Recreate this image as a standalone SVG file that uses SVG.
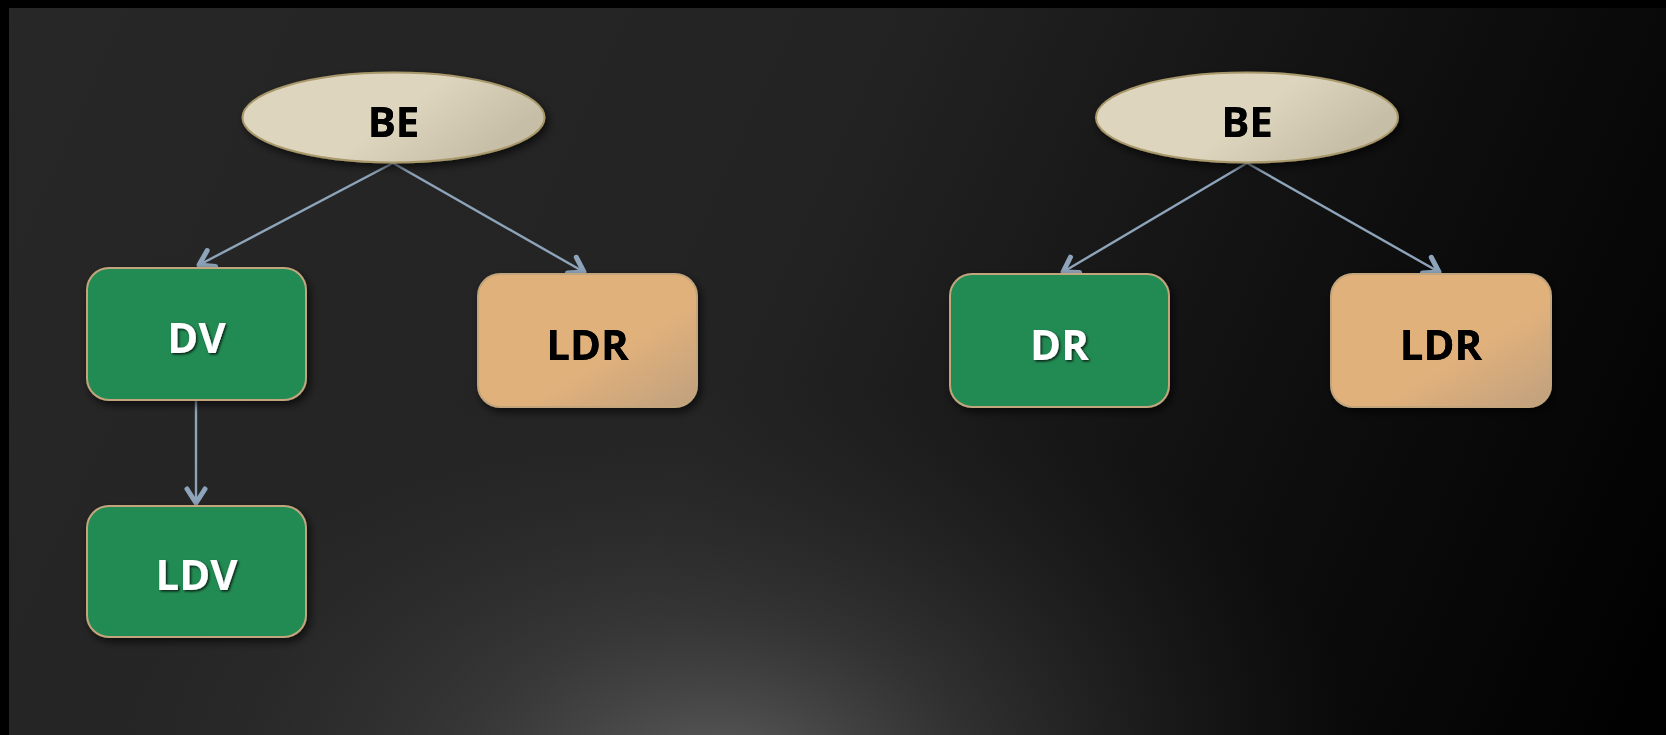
<svg xmlns="http://www.w3.org/2000/svg" width="1666" height="735" viewBox="0 0 1666 735">
<defs>
<linearGradient id="bgLin" x1="0" y1="0" x2="1666" y2="735" gradientUnits="userSpaceOnUse">
<stop offset="0" stop-color="#272727"/>
<stop offset="0.45" stop-color="#232323"/>
<stop offset="0.75" stop-color="#0e0e0e"/>
<stop offset="1" stop-color="#000"/>
</linearGradient>
<radialGradient id="glow" cx="720" cy="780" r="520" gradientUnits="userSpaceOnUse" gradientTransform="translate(720 780) scale(1.25 0.78) translate(-720 -780)">
<stop offset="0" stop-color="#6a6a6a" stop-opacity="0.85"/>
<stop offset="0.4" stop-color="#4a4a4a" stop-opacity="0.5"/>
<stop offset="1" stop-color="#2a2a2a" stop-opacity="0"/>
</radialGradient>
<linearGradient id="beFill" x1="0" y1="0" x2="1" y2="0.4">
<stop offset="0" stop-color="#ddd5bd"/>
<stop offset="0.6" stop-color="#ddd5bd"/>
<stop offset="1" stop-color="#c6bea6"/>
</linearGradient>
<linearGradient id="ldrFill" x1="0" y1="0" x2="1" y2="1">
<stop offset="0" stop-color="#e1b17b"/>
<stop offset="0.6" stop-color="#e1b17b"/>
<stop offset="1" stop-color="#bfa07f"/>
</linearGradient>
<filter id="shadow" x="-20%" y="-20%" width="140%" height="150%">
<feDropShadow dx="3" dy="4" stdDeviation="4" flood-color="#000" flood-opacity="0.65"/>
</filter>
<filter id="tshadow" x="-20%" y="-20%" width="140%" height="150%">
<feDropShadow dx="1.5" dy="1.5" stdDeviation="1.3" flood-color="#000" flood-opacity="0.75"/>
</filter>
<filter id="tshadowDark" x="-20%" y="-20%" width="140%" height="150%">
<feGaussianBlur stdDeviation="0.7" in="SourceGraphic" result="b"/>
<feMerge><feMergeNode in="b"/><feMergeNode in="SourceGraphic"/></feMerge>
</filter>
<marker id="arrow" markerUnits="userSpaceOnUse" markerWidth="40" markerHeight="40" viewBox="-20 -20 40 40" refX="0" refY="0" orient="auto" overflow="visible">
<path d="M-14,-9 L0,0 L-14,9" fill="none" stroke="#8ea4ba" stroke-width="5" stroke-linecap="round" stroke-linejoin="round"/>
</marker>
<style>
.box{stroke:#c2a57c;stroke-width:2;filter:url(#shadow)}
.green{fill:#218a53}
.ldr{fill:url(#ldrFill)}
.be{fill:url(#beFill);stroke:#a8986a;stroke-width:2;filter:url(#shadow)}
.lbl{font-family:"Open Sans","Liberation Sans",sans-serif;font-weight:700;font-size:42px;text-anchor:middle}
.w{fill:#ffffff;filter:url(#tshadow)}
.k{fill:#000000;filter:url(#tshadowDark)}
.conn{stroke:#8ea4ba;stroke-width:2.4;fill:none;marker-end:url(#arrow)}
</style>
</defs>
<rect x="0" y="0" width="1666" height="735" fill="#000"/>
<rect x="9" y="8" width="1657" height="727" fill="url(#bgLin)"/>
<rect x="9" y="8" width="1657" height="727" fill="url(#glow)"/>

<g id="connectors">
<line class="conn" x1="393" y1="163" x2="199" y2="265"/>
<line class="conn" x1="393" y1="163" x2="584" y2="272"/>
<line class="conn" x1="196" y1="400" x2="196" y2="503"/>
<line class="conn" x1="1247" y1="163" x2="1063" y2="272"/>
<line class="conn" x1="1247" y1="163" x2="1439" y2="272"/>
</g>

<g id="be-left">
<ellipse class="be" cx="393.5" cy="117.5" rx="151" ry="45"/>
<text class="lbl k" x="393.5" y="137">BE</text>
</g>
<g id="dv">
<rect class="box green" x="87" y="268" width="219" height="132" rx="22"/>
<text class="lbl w" x="196.5" y="353">DV</text>
</g>
<g id="ldr-left">
<rect class="box ldr" x="478" y="274" width="219" height="133" rx="22"/>
<text class="lbl k" x="587.5" y="360">LDR</text>
</g>
<g id="ldv">
<rect class="box green" x="87" y="506" width="219" height="131" rx="22"/>
<text class="lbl w" x="196.5" y="590">LDV</text>
</g>
<g id="be-right">
<ellipse class="be" cx="1247" cy="117.5" rx="151" ry="45"/>
<text class="lbl k" x="1247" y="137">BE</text>
</g>
<g id="dr">
<rect class="box green" x="950" y="274" width="219" height="133" rx="22"/>
<text class="lbl w" x="1059.5" y="360">DR</text>
</g>
<g id="ldr-right">
<rect class="box ldr" x="1331" y="274" width="220" height="133" rx="22"/>
<text class="lbl k" x="1441" y="360">LDR</text>
</g>
</svg>
